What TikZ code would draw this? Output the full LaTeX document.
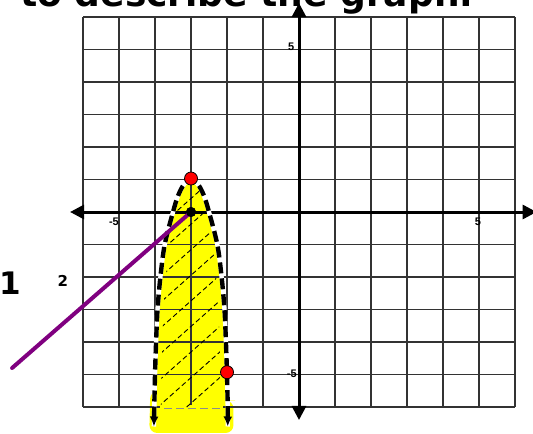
\documentclass[tikz,border=0pt]{standalone}
\usepackage{fontspec}
\setmainfont{DejaVu Sans}
\newfontfamily\tickfont{Liberation Sans}
\usetikzlibrary{arrows.meta}
\definecolor{hilite}{RGB}{255,255,0}
\definecolor{linepurple}{RGB}{128,0,128}
\definecolor{dotred}{RGB}{255,0,0}
\newcommand\graphcurve{plot[smooth, tension=0.55] coordinates {(-4.03,-6.6) (-4.02,-6) (-4.0,-5) (-3.97,-4) (-3.93,-3) (-3.85,-2) (-3.73,-1) (-3.5,0) (-3.36,0.5) (-3.19,0.86) (-3,1) (-2.81,0.86) (-2.64,0.5) (-2.5,0) (-2.27,-1) (-2.15,-2) (-2.07,-3) (-2.03,-4) (-2.0,-5) (-1.98,-6) (-1.98,-6.6)}}
\tikzset{
  gridline/.style={line width=0.7pt, black!80},
  axisline/.style={line width=1.5pt, {Triangle[length=7pt,width=7pt]}-{Triangle[length=7pt,width=7pt]}},
  curveline/.style={line width=2.2pt, dash pattern=on 5.5pt off 2.5pt},
  hatchline/.style={line width=0.45pt, dash pattern=on 2.5pt off 1.5pt},
  reddot/.style={circle, fill=dotred, draw=black, line width=0.4pt, inner sep=0pt, minimum size=6.5pt},
  blackdot/.style={circle, fill=black, inner sep=0pt, minimum size=5pt},
  ticklabel/.style={font=\tickfont\bfseries\fontsize{5.5}{6}\selectfont, inner sep=0pt}
}

\begin{document}
\begin{tikzpicture}[x=18pt, y=16.25pt]
    \useasboundingbox (-8.306,-6.83) rectangle (6.5,6.523);
    % highlighted region
    \fill[hilite] \graphcurve -- cycle;
    \fill[hilite, rounded corners=4pt] (-4.16,-6.8) -- (-4.13,-5.5) -- (-3.9,-5.5) -- (-2,-5.8) -- (-1.82,-5.8) -- (-1.82,-6.8) -- cycle;
    \draw[gridline, step=1] (-6,-6) grid (6,6);
    \draw[hilite, line width=1.6pt] (-3.85,-6) -- (-2.1,-6);
    \draw[black!45, line width=0.4pt, dash pattern=on 4pt off 2pt] (-3.75,-6.05) -- (-2.15,-6.05);
    \draw[axisline] (-6.36,0) -- (6.6,0);
    \draw[axisline] (0,-6.4) -- (0,6.43);
    \node[ticklabel] (xminus) at (-5.14,-0.3) {-5};
    \node[ticklabel] (xplus) at (4.97,-0.3) {5};
    \node[ticklabel] (yplus) at (-0.22,5.07) {5};
    \node[ticklabel] (yminus) at (-0.2,-4.98) {-5};
    % hatching
    \begin{scope}
        \clip[shift={(-3,0)}, xscale=0.82, shift={(3,0)}] \graphcurve -- cycle;
        \foreach \c in {-4.0,-3.2,...,3.6}
            \draw[hatchline] ({\c-6.32},-6) -- ({\c+1.81},2);
    \end{scope}
    \draw[white, line width=2.2pt] \graphcurve;
    \draw[curveline, {Latex[length=5pt,width=4.5pt]}-{Latex[length=5pt,width=4.5pt]}] \graphcurve;
    \node[blackdot] (focus) at (-3,0) {};
    \coordinate (pstart) at (-7.97,-4.8);
    \draw[linepurple, line width=2pt, line cap=round] (pstart) -- (focus.center);
    \node[blackdot] at (focus) {};
    \node[reddot] (vertex) at (-3,1.03) {};
    \node[reddot] (point) at (-2,-4.93) {};
    \node[font=\bfseries\fontsize{15.5}{17}\selectfont, inner sep=0pt] (one) at (-8.02,-2.18) {1};
    \node[font=\bfseries\fontsize{7.5}{8}\selectfont, inner sep=0pt] (two) at (-6.56,-2.12) {2};
    \node[font=\bfseries\fontsize{18}{20}\selectfont, anchor=base west, inner sep=0pt] (title) at (-7.75,6.33) {to describe the graph.};
\end{tikzpicture}
\end{document}
